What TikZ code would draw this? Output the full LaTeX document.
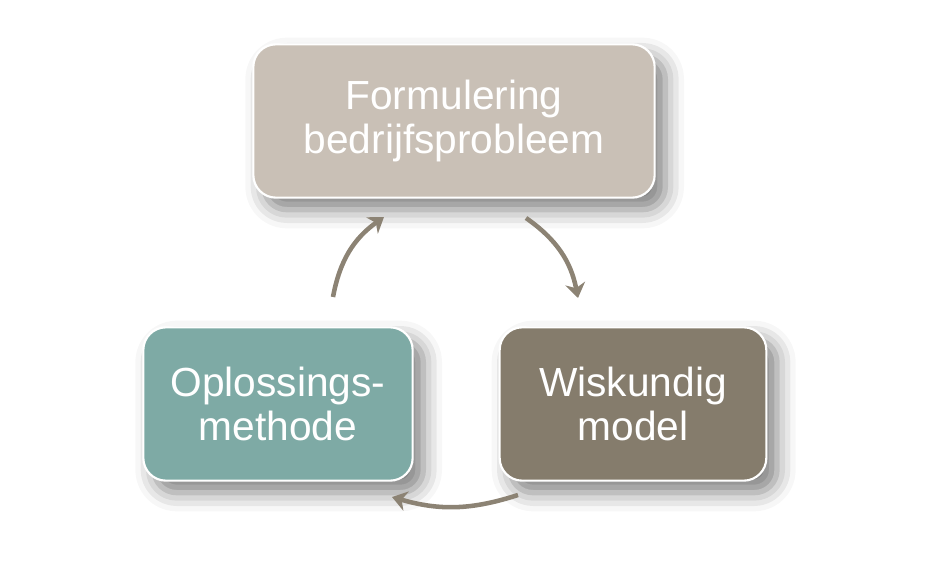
\documentclass[tikz,border=0pt]{standalone}
\usepackage{fontspec}
\setmainfont{Liberation Sans}
\usetikzlibrary{arrows.meta,shadows.blur}

\definecolor{topbox}{RGB}{201,192,182}
\definecolor{tealbox}{RGB}{126,170,165}
\definecolor{brownbox}{RGB}{133,124,108}
\definecolor{arrowcol}{RGB}{140,131,116}

\tikzset{
    stage/.style={rectangle, rounded corners=17pt, draw=white, line width=1.6pt,
        text=white, align=center, minimum height=115pt,
        font=\fontsize{30.5}{33}\selectfont,
        blur shadow={shadow xshift=8pt, shadow yshift=-9pt, shadow blur radius=14pt, shadow opacity=50}},
    cyclearrow/.style={draw=arrowcol, line width=3.4pt,
        -{Stealth[length=11pt,width=15pt,inset=3.5pt]}}
}

\begin{document}
\begin{tikzpicture}[x=0.75pt,y=-0.75pt]
    \useasboundingbox (0,0) rectangle (942,570);

    % the three steps
    \node[stage, fill=topbox, minimum width=301pt] (probleem) at (454,121) {Formulering\\bedrijfsprobleem};
    \node[stage, fill=brownbox, minimum width=200pt] (model) at (633,404) {Wiskundig\\model};
    \node[stage, fill=tealbox, minimum width=202pt] (methode) at (278,404) {Oplossings-\\methode};

    % arrow ends
    \coordinate (a1) at (333,297);
    \coordinate (b1) at (384,217);
    \coordinate (a2) at (526,218);
    \coordinate (b2) at (578,298);
    \coordinate (a3) at (518,495);
    \coordinate (b3) at (392,497);

    \draw[cyclearrow] (a1) to[bend left=22] (b1);
    \draw[cyclearrow] (a2) to[bend left=22] (b2);
    \draw[cyclearrow] (a3) to[bend left=17] (b3);

\end{tikzpicture}
\end{document}
